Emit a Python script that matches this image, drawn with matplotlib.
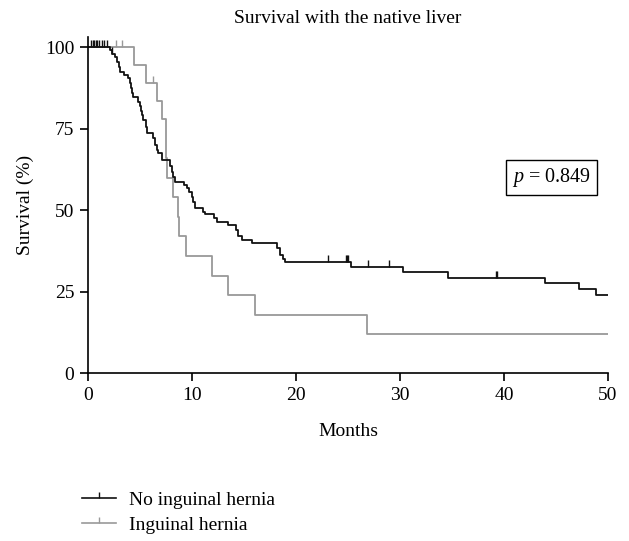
import numpy as np
import matplotlib.pyplot as plt
from matplotlib.lines import Line2D

plt.rcParams['font.family'] = 'Liberation Serif'
plt.rcParams['mathtext.fontset'] = 'custom'
plt.rcParams['mathtext.it'] = 'Liberation Serif:italic'
plt.rcParams['mathtext.rm'] = 'Liberation Serif'

# No inguinal hernia: event times (months) and survival (%) after each step
no_t = [0, 2.1, 2.3, 2.6, 2.8, 2.95, 3.08, 3.5, 3.88, 4.0, 4.1, 4.2, 4.3, 4.84, 4.95,
        5.05, 5.16, 5.3, 5.55, 5.64, 6.2, 6.44, 6.6, 6.76, 7.09, 7.9, 8.05, 8.2, 8.37,
        9.2, 9.49, 9.7, 9.97, 10.1, 10.29, 11.1, 11.25, 12.1, 12.4, 13.5, 14.25, 14.45,
        14.8, 15.8, 18.2, 18.46, 18.7, 18.94, 25.26, 30.3, 34.6, 43.9, 47.2, 48.8]
no_s = [100, 99, 98, 97, 95.5, 94, 92.4, 91.5, 90.4, 89, 87.5, 86, 84.8, 83.2, 82,
        80.5, 79.1, 77.5, 75.6, 73.5, 72, 70, 68.5, 67.4, 65.3, 63.5, 61.7, 60, 58.7,
        57.8, 56.7, 55.5, 54.1, 52.5, 50.5, 49.5, 48.7, 47.6, 46.4, 45.4, 44, 42,
        40.8, 39.8, 38.5, 36.2, 35, 34.0, 32.6, 30.9, 29.2, 27.5, 25.7, 23.9]
no_cens = [0.3, 0.45, 0.6, 0.75, 0.9, 1.1, 1.3, 1.55, 1.8, 2.35, 23.1, 24.8, 24.9,
           25.0, 26.9, 28.9, 39.2, 39.3]

# Inguinal hernia
ih_t = [0, 4.45, 5.6, 6.6, 7.1, 7.45, 7.5, 7.56, 8.2, 8.65, 8.75, 9.4, 11.9, 13.5, 16.1, 26.8]
ih_s = [100, 94.4, 88.9, 83.3, 77.8, 71.8, 65.8, 59.8, 53.9, 47.9, 41.9, 35.9, 29.9,
        23.9, 17.9, 11.9]
ih_cens = [2.7, 3.3, 6.2]

months_max = 50


def surv_at(times, surv, t):
    idx = np.searchsorted(times, t, side='right') - 1
    return np.asarray(surv)[idx]


fig = plt.figure(figsize=(6.29, 5.41), dpi=100)
ax = fig.add_axes([0.14, 0.3105, 0.8266, 0.6207])

black = '#111111'
gray = '#999999'
for t, s, c, col in [(ih_t, ih_s, ih_cens, gray), (no_t, no_s, no_cens, black)]:
    ax.step(list(t) + [months_max], list(s) + [s[-1]], where='post', color=col, lw=1.3)
    ax.plot(c, surv_at(t, s, c), linestyle='none', marker=2, markersize=5,
            markeredgewidth=1.0, color=col)

ax.set_xlim(0, months_max)
ax.set_ylim(0, 103)
ax.set_xticks([0, 10, 20, 30, 40, 50])
ax.set_yticks([0, 25, 50, 75, 100])
ax.spines['top'].set_visible(False)
ax.spines['right'].set_visible(False)
for sp in ['left', 'bottom']:
    ax.spines[sp].set_linewidth(1.2)
ax.tick_params(direction='out', length=6, width=1.2, labelsize=14, pad=4)
ax.set_xlabel('Months', fontsize=14, labelpad=14)
ax.set_ylabel('Survival (%)', fontsize=14, labelpad=8)
ax.set_title('Survival with the native liver', fontsize=14, pad=10)

ax.text(0.892, 0.582, r'$p$ = 0.849', transform=ax.transAxes, ha='center', va='center',
        fontsize=14.5, bbox=dict(boxstyle='square,pad=0.3', facecolor='white',
                                 edgecolor='black', linewidth=1.0))

handles = [Line2D([], [], color=black, lw=1.2, marker=2, markersize=4),
           Line2D([], [], color=gray, lw=1.2, marker=2, markersize=4)]
fig.legend(handles, ['No inguinal hernia', 'Inguinal hernia'], loc='upper left',
           bbox_to_anchor=(0.13, 0.0925), frameon=False, fontsize=14, handlelength=1.75,
           handletextpad=0.7, labelspacing=0.38, borderpad=0, borderaxespad=0,
           numpoints=1)

fig.savefig('out.png', dpi=100)
plt.close(fig)
